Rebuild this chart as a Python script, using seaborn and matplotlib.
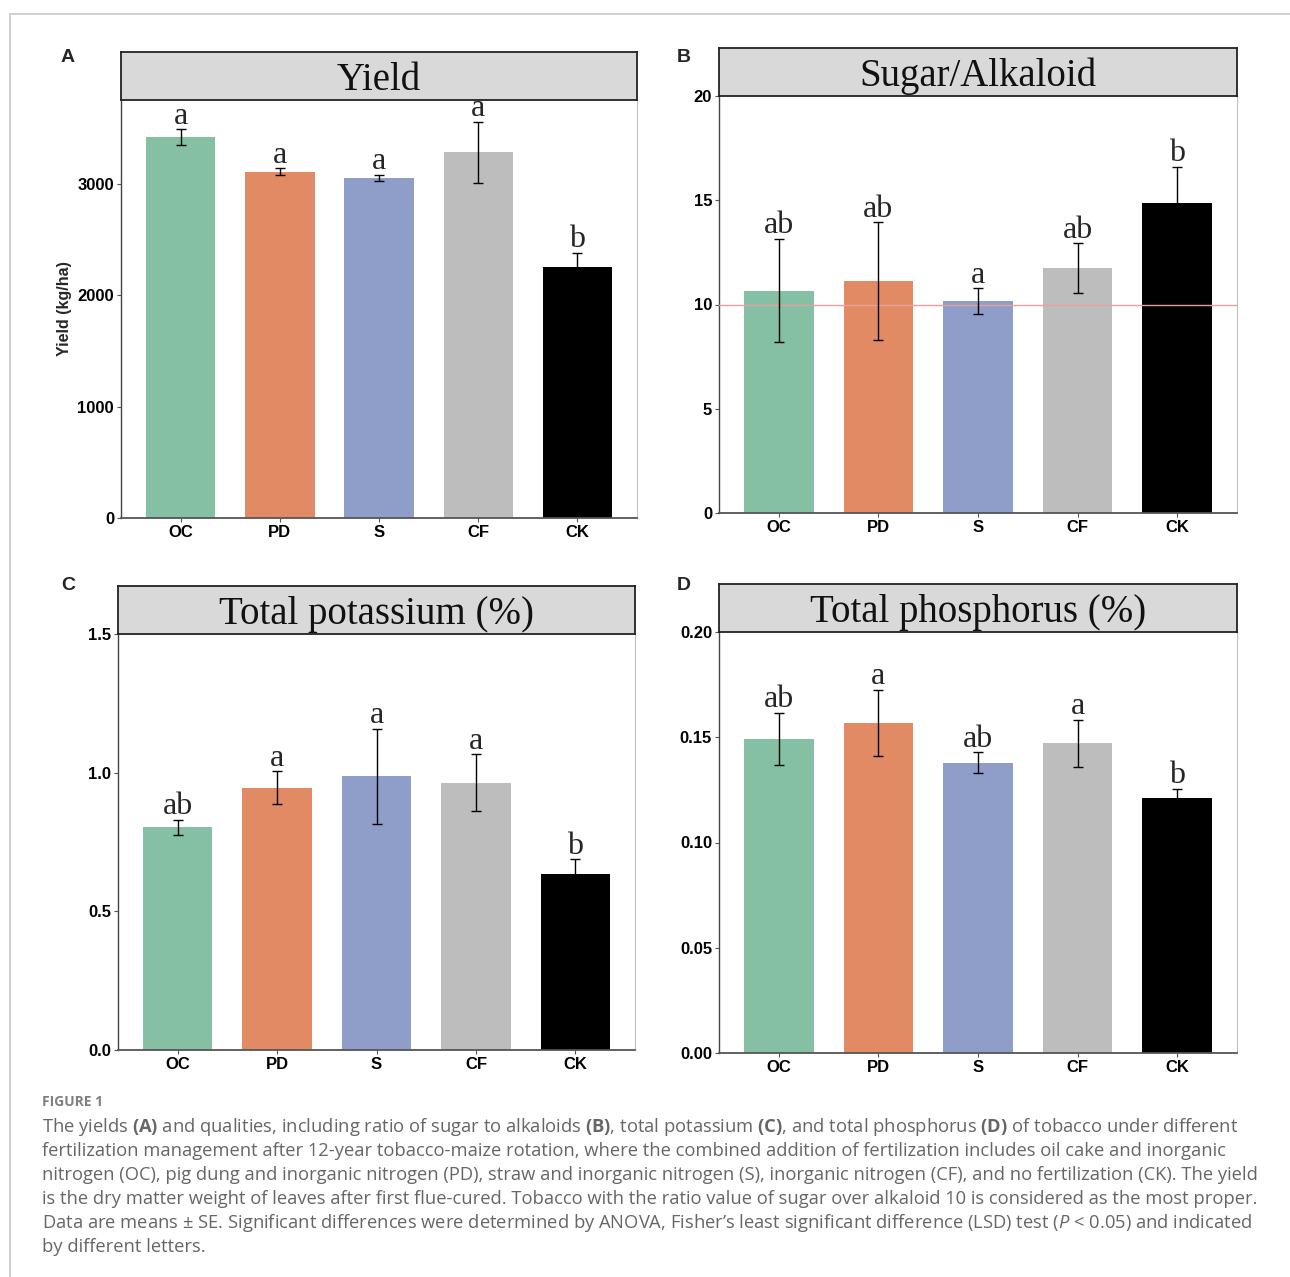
import matplotlib
matplotlib.use("Agg")
import matplotlib.pyplot as plt
import seaborn as sns
import pandas as pd
from matplotlib.lines import Line2D

# treatments and bar colours
categories = ["OC", "PD", "S", "CF", "CK"]
bar_colors = ["#86c0a4", "#e28a63", "#8f9ec8", "#bdbdbd", "#000000"]

# (A) yield, kg/ha
yield_mean = [3417, 3106, 3052, 3282, 2251]
yield_se = [72, 30, 27, 273, 126]
yield_letters = ["a", "a", "a", "a", "b"]

# (B) sugar / alkaloid ratio
sa_mean = [10.67, 11.13, 10.16, 11.75, 14.87]
sa_se = [2.48, 2.81, 0.61, 1.18, 1.73]
sa_letters = ["ab", "ab", "a", "ab", "b"]
sa_reference = 10

# (C) total potassium, %
k_mean = [0.803, 0.946, 0.987, 0.964, 0.635]
k_se = [0.027, 0.059, 0.171, 0.102, 0.052]
k_letters = ["ab", "a", "a", "a", "b"]

# (D) total phosphorus, %
p_mean = [0.1492, 0.1569, 0.1380, 0.1472, 0.1211]
p_se = [0.0124, 0.0156, 0.0049, 0.0112, 0.0043]
p_letters = ["ab", "a", "ab", "a", "b"]

caption_lines = [
    r"The yields $\mathbf{(A)}$ and qualities, including ratio of sugar to alkaloids $\mathbf{(B)}$, total potassium $\mathbf{(C)}$, and total phosphorus $\mathbf{(D)}$ of tobacco under different",
    "fertilization management after 12-year tobacco-maize rotation, where the combined addition of fertilization includes oil cake and inorganic",
    "nitrogen (OC), pig dung and inorganic nitrogen (PD), straw and inorganic nitrogen (S), inorganic nitrogen (CF), and no fertilization (CK). The yield",
    "is the dry matter weight of leaves after first flue-cured. Tobacco with the ratio value of sugar over alkaloid 10 is considered as the most proper.",
    r"Data are means ± SE. Significant differences were determined by ANOVA, Fisher’s least significant difference (LSD) test ($\mathit{P}$ < 0.05) and indicated",
    "by different letters.",
]

sns.set_theme(style="white")
plt.rcParams["font.family"] = ["Liberation Sans", "DejaVu Sans"]
plt.rcParams["mathtext.fontset"] = "custom"
plt.rcParams["mathtext.rm"] = "Open Sans"
plt.rcParams["mathtext.bf"] = "Open Sans:bold"
plt.rcParams["mathtext.it"] = "Open Sans:italic"

W, H = 1290, 1277
fig = plt.figure(figsize=(W / 100, H / 100), dpi=100)


def px_rect(left, top, right, bottom):
    return [left / W, 1 - bottom / H, (right - left) / W, (bottom - top) / H]


def panel(rect, strip_top, title, means, ses, letters, ylim, yticks, ticklabels, ylabel=None, ref=None):
    left, top, right, bottom = rect
    ax = fig.add_axes(px_rect(left, top, right, bottom))
    df = pd.DataFrame({"treatment": categories, "value": means})
    sns.barplot(data=df, x="treatment", y="value", hue="treatment", palette=bar_colors,
                width=0.7, saturation=1, legend=False, linewidth=0, errorbar=None, ax=ax)
    if ref is not None:
        ax.axhline(ref, color="#e8a09a", lw=1, zorder=4)
    ax.errorbar(range(len(categories)), means, yerr=ses, fmt="none", ecolor="black",
                elinewidth=1, capsize=3.6, capthick=1, zorder=5)
    for i, (m, s, lab) in enumerate(zip(means, ses, letters)):
        ax.annotate(lab, (i, m + s), xytext=(0, 4), textcoords="offset points",
                    ha="center", va="baseline", fontsize=23, family="Liberation Serif")
    ax.set_xlim(-0.6, len(categories) - 0.4)
    ax.set_ylim(*ylim)
    ax.set_yticks(yticks)
    ax.set_yticklabels(ticklabels)
    ax.set_xlabel("")
    ax.set_ylabel(ylabel if ylabel else "", fontsize=11.5, fontweight="bold", labelpad=4)
    ax.tick_params(axis="both", length=3, width=0.8, color="#555555", pad=2,
                   labelsize=12, labelcolor="black")
    ax.tick_params(axis="y", left=True)
    ax.tick_params(axis="x", bottom=True)
    for lab in ax.get_xticklabels() + ax.get_yticklabels():
        lab.set_fontweight("bold")
    ax.spines["top"].set_visible(False)
    ax.spines["left"].set_color("#444444")
    ax.spines["left"].set_linewidth(1)
    ax.spines["bottom"].set_color("#555555")
    ax.spines["bottom"].set_linewidth(1.3)
    ax.spines["right"].set_color("#c0c0c0")
    ax.spines["right"].set_linewidth(0.8)

    # grey strip with the panel title
    st = fig.add_axes(px_rect(left, strip_top, right, top))
    st.set_facecolor("#d9d9d9")
    st.set_xticks([])
    st.set_yticks([])
    for sp in st.spines.values():
        sp.set_color("#222222")
        sp.set_linewidth(1.3)
    st.text(0.5, 0.2, title, ha="center", va="baseline", fontsize=28,
            family="Liberation Serif", color="#111111", transform=st.transAxes)
    return ax


panel((121, 100, 637, 518), 52, "Yield", yield_mean, yield_se, yield_letters,
      (0, 3750), [0, 1000, 2000, 3000], ["0", "1000", "2000", "3000"], ylabel="Yield (kg/ha)")
panel((719, 96, 1237, 513), 48, "Sugar/Alkaloid", sa_mean, sa_se, sa_letters,
      (0, 20), [0, 5, 10, 15, 20], ["0", "5", "10", "15", "20"], ref=sa_reference)
panel((118, 634, 635, 1050), 586, "Total potassium (%)", k_mean, k_se, k_letters,
      (0, 1.5), [0, 0.5, 1.0, 1.5], ["0.0", "0.5", "1.0", "1.5"])
panel((719, 632, 1237, 1053), 584, "Total phosphorus (%)", p_mean, p_se, p_letters,
      (0, 0.2), [0, 0.05, 0.10, 0.15, 0.20], ["0.00", "0.05", "0.10", "0.15", "0.20"])

# panel letters
for lab, (x, y) in zip("ABCD", [(68, 58), (684, 58), (68, 586), (684, 586)]):
    fig.text(x / W, 1 - y / H, lab, ha="center", va="center", fontsize=14, fontweight="bold")

# page frame lines
fig.add_artist(Line2D([10 / W, 1], [1 - 14 / H, 1 - 14 / H], color="#c8c8c8", lw=1.2))
fig.add_artist(Line2D([10 / W, 10 / W], [0, 1 - 14 / H], color="#c8c8c8", lw=1.2))

# caption
fig.text(42 / W, 1 - 1102 / H, "FIGURE 1", ha="left", va="center", fontsize=10,
         family="Open Sans", fontweight="bold", color="#808080")
for i, line in enumerate(caption_lines):
    fig.text(42 / W, 1 - (1127 + 24 * i) / H, line, ha="left", va="center",
             fontsize=13.2, family="Open Sans", color="#666666")

fig.savefig("out.png", dpi=100)
